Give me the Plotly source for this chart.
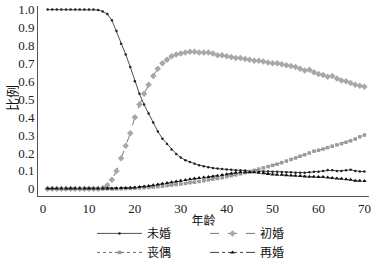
import plotly.graph_objects as go

ages = list(range(1, 71))

never_married = [1.0]*11 + [
    0.998, 0.99, 0.975, 0.94, 0.88, 0.81, 0.75, 0.68, 0.60,
    0.53, 0.47, 0.42, 0.37, 0.32, 0.28, 0.25, 0.22, 0.195, 0.175,
    0.16, 0.15, 0.14, 0.132, 0.126, 0.12, 0.116, 0.113, 0.11, 0.108,
    0.106, 0.104, 0.103, 0.102, 0.10, 0.10, 0.098, 0.097, 0.096, 0.095,
    0.095, 0.094, 0.093, 0.092, 0.09, 0.09, 0.09, 0.092, 0.095, 0.095,
    0.10, 0.105, 0.104, 0.10, 0.10, 0.103, 0.106, 0.10, 0.097, 0.096]

first_married = [0.0]*12 + [
    0.005, 0.02, 0.05, 0.10, 0.17, 0.24, 0.31, 0.40,
    0.47, 0.53, 0.58, 0.63, 0.67, 0.70, 0.72, 0.74, 0.75, 0.755,
    0.76, 0.765, 0.765, 0.76, 0.76, 0.76, 0.755, 0.745, 0.745, 0.74,
    0.735, 0.73, 0.73, 0.725, 0.72, 0.715, 0.715, 0.71, 0.705, 0.70,
    0.70, 0.695, 0.69, 0.685, 0.68, 0.67, 0.66, 0.665, 0.65, 0.64,
    0.635, 0.625, 0.63, 0.615, 0.605, 0.60, 0.59, 0.58, 0.575, 0.57]

widowed = [0.0]*17 + [
    0.001, 0.002, 0.003,
    0.005, 0.006, 0.008, 0.01, 0.012, 0.015, 0.018, 0.021, 0.024, 0.027,
    0.03, 0.034, 0.037, 0.041, 0.045, 0.05, 0.054, 0.058, 0.062, 0.068,
    0.073, 0.078, 0.084, 0.09, 0.096, 0.103, 0.11, 0.117, 0.124, 0.131,
    0.138, 0.146, 0.155, 0.164, 0.172, 0.182, 0.19, 0.20, 0.21, 0.215,
    0.222, 0.23, 0.238, 0.245, 0.252, 0.26, 0.268, 0.278, 0.29, 0.30]

remarried = [0.002]*15 + [
    0.003, 0.004, 0.005, 0.006, 0.008,
    0.01, 0.013, 0.016, 0.02, 0.024, 0.028, 0.032, 0.037, 0.041, 0.045,
    0.049, 0.053, 0.057, 0.06, 0.063, 0.066, 0.069, 0.073, 0.077, 0.082,
    0.086, 0.09, 0.092, 0.093, 0.093, 0.092, 0.09, 0.087, 0.083, 0.08,
    0.079, 0.078, 0.076, 0.075, 0.073, 0.071, 0.069, 0.068, 0.067, 0.066,
    0.066, 0.063, 0.06, 0.058, 0.056, 0.053, 0.05, 0.045, 0.045, 0.043]

x_ticks = [0, 10, 20, 30, 40, 50, 60, 70]
y_ticks = [0, 0.1, 0.2, 0.3, 0.4, 0.5, 0.6, 0.7, 0.8, 0.9, 1.0]
y_ticktext = ["0", "0.1", "0.2", "0.3", "0.4", "0.5", "0.6", "0.7", "0.8", "0.9", "1.0"]
x_title = "年龄"
y_title = "比例"

CJK = "Noto Sans CJK SC"
SERIF = "Liberation Serif"

fig = go.Figure()
fig.add_trace(go.Scatter(x=ages, y=never_married, name="未婚", mode="lines+markers",
                         legend="legend",
                         line=dict(color="#222222", width=0.8),
                         marker=dict(symbol="circle", size=2.5, color="#222222")))
fig.add_trace(go.Scatter(x=ages, y=widowed, name="丧偶", mode="lines+markers",
                         legend="legend",
                         line=dict(color="#444444", width=0.8, dash="dot"),
                         marker=dict(symbol="square", size=3.5, color="#9a9a9a")))
fig.add_trace(go.Scatter(x=ages, y=first_married, name="初婚", mode="lines+markers",
                         legend="legend2",
                         line=dict(color="#555555", width=0.8, dash="dash"),
                         marker=dict(symbol="diamond", size=5, color="#a8a8a8")))
fig.add_trace(go.Scatter(x=ages, y=remarried, name="再婚", mode="lines+markers",
                         legend="legend2",
                         line=dict(color="#111111", width=0.8, dash="dashdot"),
                         marker=dict(symbol="triangle-up", size=4, color="#111111")))

legend_common = dict(orientation="v", yref="container", xref="container",
                     xanchor="left", yanchor="top", y=0.158,
                     itemwidth=45, tracegroupgap=0, bgcolor="rgba(0,0,0,0)",
                     font=dict(family=CJK, size=12, color="#111111"))

fig.update_layout(
    width=379, height=260,
    margin=dict(l=38, r=10, t=6, b=64, autoexpand=False),
    paper_bgcolor="white", plot_bgcolor="white",
    showlegend=True,
    legend=dict(x=92/379, **legend_common),
    legend2=dict(x=205/379, **legend_common),
    xaxis=dict(range=[-1.1, 71], tickvals=x_ticks, showgrid=False, zeroline=False,
               showline=True, linecolor="#555555", linewidth=1, ticks="",
               tickfont=dict(family=SERIF, size=13, color="#222222"),
               title=dict(text=x_title, font=dict(family=CJK, size=12, color="#111111"), standoff=2)),
    yaxis=dict(range=[-0.04, 1.02], tickvals=y_ticks, ticktext=y_ticktext, showgrid=False,
               zeroline=False, showline=True, linecolor="#555555", linewidth=1, ticks="",
               tickfont=dict(family=SERIF, size=13, color="#222222")),
    annotations=[dict(text=y_title, textangle=-90, xref="paper", yref="paper",
                      x=-0.0785, y=0.516, xanchor="center", yanchor="middle",
                      showarrow=False, font=dict(family=CJK, size=13, color="#111111"))],
)

fig.write_html("out.html", config={"displayModeBar": False},
               post_script="document.body.style.margin='0';document.body.style.padding='0';")
